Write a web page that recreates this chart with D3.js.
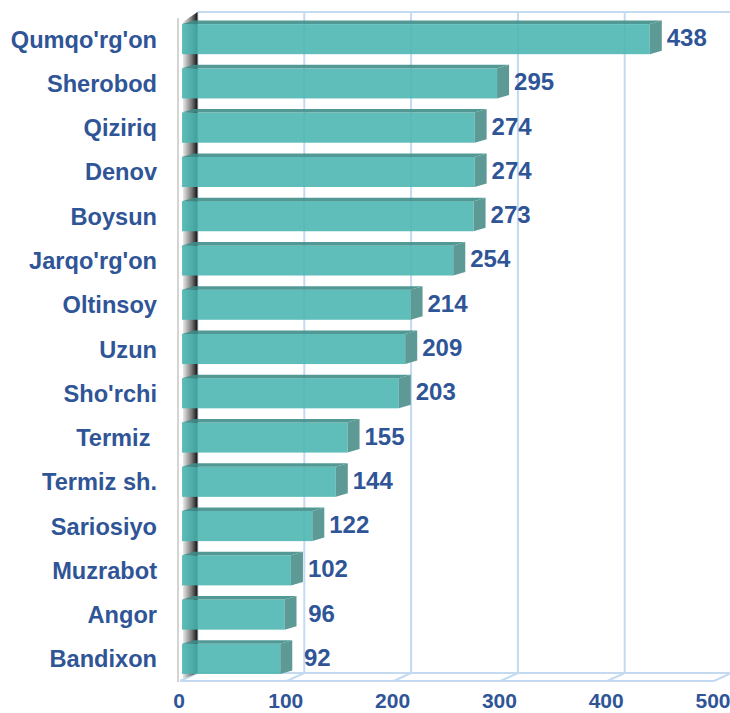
<!DOCTYPE html>
<html><head><meta charset="utf-8">
<script src="https://cdn.jsdelivr.net/npm/d3@7"></script>
<style>body{margin:0;background:#fff}svg{display:block}text{font-family:"Liberation Sans",Arial,sans-serif;font-weight:bold}</style>
</head><body><svg id="c" width="730" height="713"></svg>
<script>
const categories = ["Qumqo'rg'on","Sherobod","Qiziriq","Denov","Boysun","Jarqo'rg'on","Oltinsoy","Uzun","Sho'rchi","Termiz ","Termiz sh.","Sariosiyo","Muzrabot","Angor","Bandixon"];
const values = [438,295,274,274,273,254,214,209,203,155,144,122,102,96,92];
const ticks = [0,100,200,300,400,500];

const svg = d3.select("#c");
const x = d3.scaleLinear().domain([0,500]).range([182,716]);
const y = d3.scaleBand().domain(categories).range([17,681]).paddingInner(0.32).paddingOuter(0.16);
const textColor = "#2F5597", gridColor = "#C3DAF0";
const backDx = 15.5, floorY = 681, backTop = 12, backBottom = 673;

const defs = svg.append("defs");
const g1 = defs.append("linearGradient").attr("id","wall").attr("x1","0").attr("x2","1").attr("y1","0").attr("y2","0");
g1.append("stop").attr("offset","0").attr("stop-color","#e8e8e8");
g1.append("stop").attr("offset","0.6").attr("stop-color","#777");
g1.append("stop").attr("offset","1").attr("stop-color","#111");

// back wall gridlines
svg.append("g").selectAll("line").data(ticks).join("line")
  .attr("x1",d=>x(d)+backDx).attr("x2",d=>x(d)+backDx)
  .attr("y1",backTop).attr("y2",backBottom)
  .attr("stroke",gridColor).attr("stroke-width",2);
svg.append("line").attr("x1",x(0)+backDx).attr("x2",730).attr("y1",backTop).attr("y2",backTop)
  .attr("stroke",gridColor).attr("stroke-width",2);
// floor
svg.append("line").attr("x1",x(0)+backDx).attr("x2",730).attr("y1",backBottom).attr("y2",backBottom)
  .attr("stroke",gridColor).attr("stroke-width",2);
svg.append("line").attr("x1",x(0)-2).attr("x2",x(500)-2).attr("y1",floorY).attr("y2",floorY)
  .attr("stroke",gridColor).attr("stroke-width",2);
svg.append("g").selectAll("line").data(ticks).join("line")
  .attr("x1",d=>x(d)-2).attr("x2",d=>x(d)+backDx)
  .attr("y1",floorY).attr("y2",backBottom)
  .attr("stroke",gridColor).attr("stroke-width",2);
// left wall
svg.append("line").attr("x1",178).attr("x2",178).attr("y1",18).attr("y2",682)
  .attr("stroke","#d4d4d4").attr("stroke-width",2);
svg.append("path").attr("d",`M183,22 L${x(0)+backDx},${backTop} L${x(0)+backDx},${backBottom} L183,679 Z`)
  .attr("fill","url(#wall)");

// bars
const dx = 12, dy = 3.5, bh = y.bandwidth();
const bars = svg.append("g").selectAll("g").data(values).join("g");
bars.append("rect").attr("x",x(0)).attr("y",(d,i)=>y(categories[i]))
  .attr("width",d=>x(d)-x(0)).attr("height",bh)
  .attr("fill","rgb(73,181,177)").attr("fill-opacity",0.88);
bars.append("path").attr("d",(d,i)=>{const t=y(categories[i]);return `M${x(0)},${t} L${x(d)},${t} L${x(d)+dx},${t-dy} L${x(0)+dx},${t-dy} Z`;})
  .attr("fill","#3f8e8a").attr("fill-opacity",0.9);
bars.append("path").attr("d",(d,i)=>{const t=y(categories[i]);return `M${x(d)},${t} L${x(d)+dx},${t-dy} L${x(d)+dx},${t+bh-dy} L${x(d)},${t+bh} Z`;})
  .attr("fill","#5d9995");
bars.append("text").attr("x",d=>x(d)+dx+25).attr("y",(d,i)=>y(categories[i])+bh/2+7)
  .attr("text-anchor","middle").attr("font-size",24).attr("fill",textColor).text(d=>d);

// category labels
svg.append("g").selectAll("text").data(categories).join("text")
  .attr("x",157).attr("y",d=>y(d)+bh/2+8.5).attr("text-anchor","end")
  .attr("font-size",23.6).attr("fill",textColor).style("white-space","pre").text(d=>d);

// tick labels
svg.append("g").selectAll("text").data(ticks).join("text")
  .attr("x",d=>x(d)-3).attr("y",708).attr("text-anchor","middle")
  .attr("font-size",21).attr("fill",textColor).text(d=>d);
</script></body></html>
